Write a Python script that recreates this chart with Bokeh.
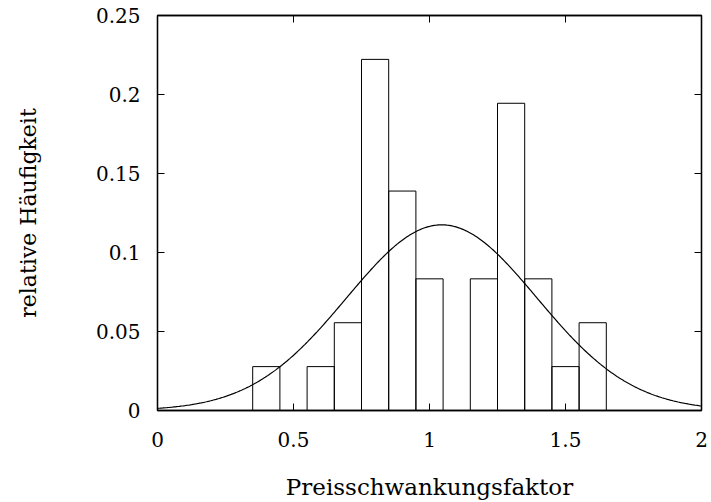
import numpy as np
from bokeh.plotting import figure
from bokeh.models import LinearAxis, FixedTicker, ColumnDataSource, Range1d, CustomLabelingPolicy
from bokeh.embed import file_html
from bokeh.resources import INLINE

# --- data ---
bin_centers = [0.4, 0.6, 0.7, 0.8, 0.9, 1.0, 1.2, 1.3, 1.4, 1.5, 1.6]
counts = [1, 1, 2, 8, 5, 3, 3, 7, 3, 1, 2]
n_total = 36
bin_width = 0.1
rel_freq = [c / n_total for c in counts]

fit_mu = 1.045
fit_sigma = 0.35
fit_peak = 0.1175

x_ticks = [0, 0.5, 1, 1.5, 2]
x_tick_labels = ["0", "0.5", "1", "1.5", "2"]
y_ticks = [0, 0.05, 0.1, 0.15, 0.2, 0.25]
y_tick_labels = ["0", "0.05", "0.1", "0.15", "0.2", "0.25"]

FONT = "DejaVu Serif"

p = figure(width=711, height=502, output_backend="svg", toolbar_location=None,
           x_range=Range1d(0, 2), y_range=Range1d(0, 0.25),
           min_border_left=157, min_border_right=10, min_border_top=15, min_border_bottom=91)
p.background_fill_color = "white"
p.border_fill_color = "white"
p.outline_line_color = "black"
p.outline_line_width = 1.3
p.xgrid.visible = False
p.ygrid.visible = False

src = ColumnDataSource(dict(
    left=[c - bin_width / 2 for c in bin_centers],
    right=[c + bin_width / 2 for c in bin_centers],
    top=rel_freq,
    bottom=[0] * len(bin_centers),
))
p.quad(left="left", right="right", top="top", bottom="bottom", source=src,
       fill_alpha=0, line_color="black", line_width=1)

xs = np.linspace(0, 2, 400)
ys = fit_peak * np.exp(-(xs - fit_mu) ** 2 / (2 * fit_sigma ** 2))
p.line(xs, ys, line_color="black", line_width=1.2)

no_labels = CustomLabelingPolicy(code="""
for (const i of Array.from(indices)) { indices.unset(i) }
return indices
""")

def style_axis(ax, ticks, labels, show_labels=True):
    ax.ticker = FixedTicker(ticks=ticks)
    ax.major_tick_in = 7
    ax.major_tick_out = 0
    ax.minor_tick_line_color = None
    ax.axis_line_color = "black"
    ax.axis_line_width = 1.3
    ax.major_tick_line_color = "black"
    ax.major_tick_line_width = 1
    ax.major_label_text_font = FONT
    ax.major_label_text_color = "black"
    if show_labels:
        ax.major_label_overrides = {t: l for t, l in zip(ticks, labels)}
        ax.major_label_text_font_size = "20px"
    else:
        ax.major_label_overrides = {t: "" for t in ticks}
        ax.major_label_policy = no_labels
        ax.major_label_text_font_size = "0px"
        ax.major_label_standoff = 0

style_axis(p.xaxis[0], x_ticks, x_tick_labels)
style_axis(p.yaxis[0], y_ticks, y_tick_labels)
p.xaxis[0].major_label_standoff = 21
p.yaxis[0].major_label_standoff = 17
p.xaxis[0].axis_label = "Preisschwankungsfaktor"
p.yaxis[0].axis_label = "relative Häufigkeit"
for ax in (p.xaxis[0], p.yaxis[0]):
    ax.axis_label_text_font = FONT
    ax.axis_label_text_font_style = "normal"
    ax.axis_label_text_color = "black"
p.xaxis[0].axis_label_text_font_size = "23px"
p.yaxis[0].axis_label_text_font_size = "22px"
p.xaxis[0].axis_label_standoff = 24
p.yaxis[0].axis_label_standoff = 52

top_ax = LinearAxis()
style_axis(top_ax, x_ticks, x_tick_labels, show_labels=False)
p.add_layout(top_ax, "above")
right_ax = LinearAxis()
style_axis(right_ax, y_ticks, y_tick_labels, show_labels=False)
p.add_layout(right_ax, "right")

open("out.html", "w").write(file_html(p, INLINE))
